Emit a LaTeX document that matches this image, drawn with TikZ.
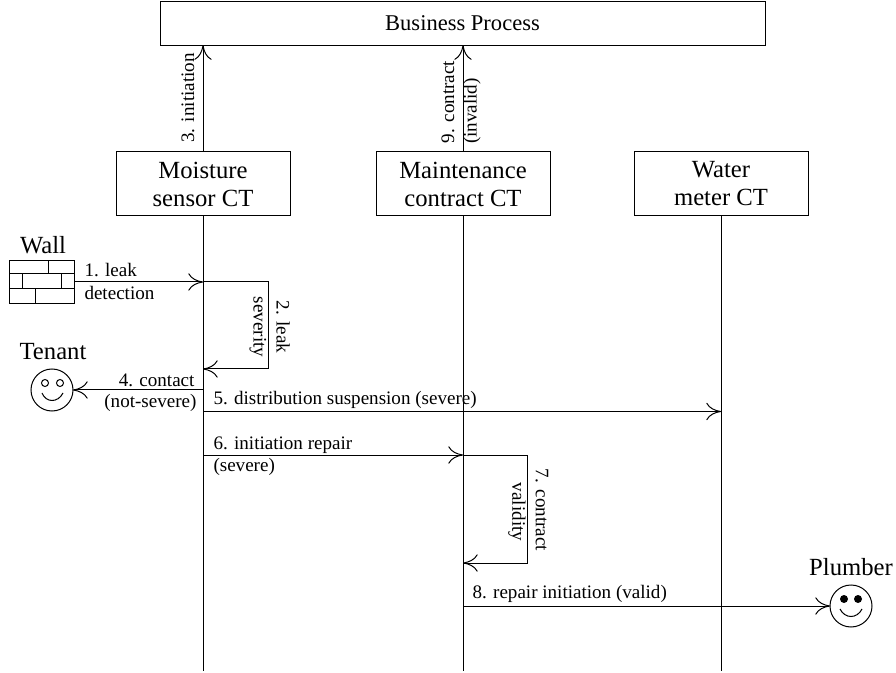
\documentclass[tikz,border=0pt]{standalone}
\usepackage{fontspec}
\setmainfont{Liberation Serif}
\usetikzlibrary{arrows.meta}
\tikzset{every picture/.style={line width=0.75pt}}
\tikzset{
  ctbox/.style={draw,rectangle,inner sep=0pt,outer sep=0pt,minimum width=130.5pt,minimum height=48pt,align=center,font=\fontsize{18.5}{21}\selectfont},
  actorname/.style={inner sep=0pt,font=\fontsize{18.5}{21}\selectfont},
  msg/.style={inner sep=0pt,font=\fontsize{14.3}{17}\selectfont},
  face/.style={draw,circle,inner sep=0pt,outer sep=0pt,minimum size=31.5pt},
  flow/.style={-{Computer Modern Rightarrow[length=11pt,width=13pt]}},
}

\begin{document}
\begin{tikzpicture}[x=0.75pt,y=0.75pt,yscale=-1,xscale=1]
\useasboundingbox (0,0) rectangle (896,673);

%Shape: Boxes
\node [ctbox,minimum width=453.75pt,minimum height=32.5pt,font=\fontsize{16.9}{21}\selectfont] (bp) at (462.5,23.5) {Business Process};
\node [ctbox] (moisture) at (203,184) {Moisture\\sensor CT};
\node [ctbox] (contract) at (463,184) {Maintenance\\contract CT};
\node [ctbox] (meter) at (721,184) {Water\\meter CT};

%Shape: Wall
\node [draw,rectangle,inner sep=0pt,outer sep=0pt,minimum width=48.75pt,minimum height=32.25pt] (wall) at (41.5,282.5) {};
\draw (9,274) -- (74,274) (9,289) -- (74,289);
\draw (48,261) -- (48,274) (22,274) -- (22,289) (61,274) -- (61,289) (35,289) -- (35,304);

%Shape: Tenant
\node [face] (tenant) at (52,390) {};
\draw (45,383) circle [radius=3.5];
\draw (60,383) circle [radius=3.5];
\draw (42,393) .. controls (46,403) and (58,403) .. (63,393);

%Shape: Plumber
\node [face] (plumber) at (851,606) {};
\fill (844,599) circle [radius=4];
\fill (858,599) circle [radius=4];
\draw (840,609) .. controls (845,619) and (857,619) .. (862,609);

%Life lines
\coordinate (moistureend) at (203,671);
\coordinate (contractend) at (463,671);
\coordinate (meterend) at (721,671);
\draw (moisture) -- (moistureend);
\draw (contract) -- (contractend);
\draw (meter) -- (meterend);

%Message points
\coordinate (detect) at (203,282);
\coordinate (severityin) at (203,369);
\coordinate (severitya) at (268,282);
\coordinate (severityb) at (268,369);
\coordinate (contactout) at (203,390);
\coordinate (suspendout) at (203,411.5);
\coordinate (suspendin) at (721,411.5);
\coordinate (repairout) at (203,455);
\coordinate (repairin) at (463,455);
\coordinate (validitya) at (527,455);
\coordinate (validityb) at (527,563);
\coordinate (validityin) at (463,563);
\coordinate (callout) at (463,606);

%Straight Lines
\draw [flow] (moisture.north) -- (moisture.north |- bp.south);
\draw [flow] (contract.north) -- (contract.north |- bp.south);
\draw [flow] (wall.east |- detect) -- (detect);
\draw [flow] (detect) -- (severitya) -- (severityb) -- (severityin);
\draw [flow] (contactout) -- (tenant.east);
\draw [flow] (suspendout) -- (suspendin);
\draw [flow] (repairout) -- (repairin);
\draw [flow] (repairin) -- (validitya) -- (validityb) -- (validityin);
\draw [flow] (callout) -- (plumber.west);

% Text Node
\node [actorname] (wallname) at (43,245) {Wall};
\node [actorname] (tenantname) at (53,352) {Tenant};
\node [actorname] (plumbername) at (851,567) {Plumber};
% Text Node
\node [msg,anchor=west] (m1a) at (84,270) {1. leak};
\node [msg,anchor=west] (m1b) at (84,293) {detection};
\node [msg,rotate=-90] (m2a) at (283,327) {2. leak};
\node [msg,rotate=-90] (m2b) at (258,327) {severity};
\node [msg,rotate=90] (m3) at (188,98) {3. initiation};
\node [msg,anchor=east] (m4a) at (195,380) {4. contact};
\node [msg,anchor=east] (m4b) at (197,403) {(not-severe)};
\node [msg,anchor=west] (m5) at (213,400) {5. distribution suspension (severe)};
\node [msg,anchor=west] (m6a) at (213,445) {6. initiation repair};
\node [msg,anchor=west] (m6b) at (213,467) {(severe)};
\node [msg,rotate=-90] (m7a) at (542,510) {7. contract};
\node [msg,rotate=-90] (m7b) at (517,512) {validity};
\node [msg,anchor=west] (m8) at (472,594) {8. repair initiation (valid)};
\node [msg,rotate=90] (m9a) at (448,102) {9. contract};
\node [msg,rotate=90] (m9b) at (472,111) {(invalid)};

\end{tikzpicture}
\end{document}
